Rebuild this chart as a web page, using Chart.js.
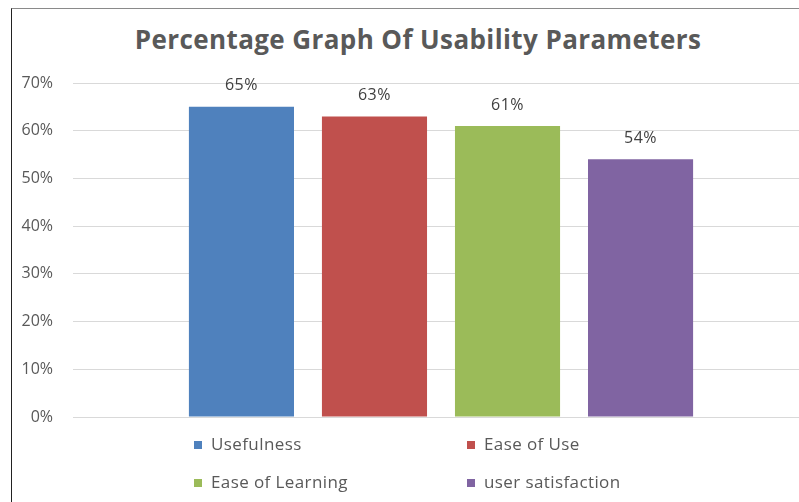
<!DOCTYPE html>
<html>
<head>
<meta charset="utf-8">
<script src="https://cdn.jsdelivr.net/npm/chart.js@4.4.1/dist/chart.umd.min.js"></script>
<style>
html, body { margin: 0; padding: 0; width: 799px; height: 502px; overflow: hidden; background: #fff; }
#frame { position: absolute; left: 11px; top: 8px; width: 830px; height: 520px; border-left: 1px solid #222; border-top: 1px solid #8a8a8a; }
#title { position: absolute; left: 0; top: 21px; width: 836px; text-align: center; font: bold 26px "Open Sans", sans-serif; color: #595959; letter-spacing: 0.4px; }
#wrap { position: absolute; left: 0; top: 0; width: 809px; height: 502px; }
</style>
</head>
<body>
<div id="frame"></div>
<div id="title">Percentage Graph Of Usability Parameters</div>
<div id="wrap"><canvas id="usabilityChart"></canvas></div>
<script>
const categories = ['Usefulness', 'Ease of Use', 'Ease of Learning', 'user satisfaction']
const percentValues = [65, 63, 61, 54]
const barColors = ['#4F81BD', '#C0504D', '#9BBB59', '#8064A2']
const yTickStep = 10
const yMax = 70

const textColor = '#595959'
const tickFont = { family: 'Open Sans', size: 16 }

// value labels above each bar
const valueLabels = {
    id: 'valueLabels',
    afterDatasetsDraw(chart) {
        const ctx = chart.ctx
        ctx.save()
        ctx.font = '16px "Open Sans"'
        ctx.letterSpacing = '0.5px'
        ctx.fillStyle = '#404040'
        ctx.textAlign = 'center'
        ctx.textBaseline = 'middle'
        chart.data.datasets.forEach((ds, i) => {
            chart.getDatasetMeta(i).data.forEach((bar, j) => {
                ctx.fillText(ds.data[j] + '%', bar.x, bar.y - 21)
            })
        })
        ctx.restore()
    }
}

// two column legend under the plot
const gridLegend = {
    id: 'gridLegend',
    afterDraw(chart) {
        const ctx = chart.ctx
        const colX = [194, 467]
        const rowY = [445, 483]
        ctx.save()
        ctx.font = '17px "Open Sans"'
        ctx.letterSpacing = '0.4px'
        ctx.textBaseline = 'middle'
        chart.data.datasets.forEach((ds, i) => {
            const x = colX[i % 2]
            const y = rowY[Math.floor(i / 2)]
            ctx.fillStyle = ds.backgroundColor
            ctx.fillRect(x, y - 4, 8, 8)
            ctx.fillStyle = textColor
            ctx.fillText(ds.label, x + 17, y)
        })
        ctx.restore()
    }
}

const datasets = categories.map((name, i) => ({
    label: name,
    data: [percentValues[i]],
    backgroundColor: barColors[i],
    categoryPercentage: 0.723,
    barPercentage: 0.79
}))

new Chart(document.getElementById('usabilityChart'), {
    type: 'bar',
    data: { labels: [''], datasets: datasets },
    options: {
        responsive: true,
        maintainAspectRatio: false,
        animation: false,
        layout: { padding: { top: 83, bottom: 77, left: 0, right: 0 } },
        plugins: {
            legend: { display: false },
            title: { display: false },
            tooltip: { enabled: false }
        },
        scales: {
            x: {
                ticks: { display: false },
                grid: { display: false },
                border: { display: false }
            },
            y: {
                min: 0,
                max: yMax,
                ticks: {
                    stepSize: yTickStep,
                    padding: 20,
                    color: textColor,
                    font: tickFont,
                    callback: v => v + '%'
                },
                grid: { color: '#D9D9D9', drawTicks: false },
                border: { display: false },
                afterFit: scale => { scale.width = 73 }
            }
        }
    },
    plugins: [valueLabels, gridLegend]
})
</script>
</body>
</html>
